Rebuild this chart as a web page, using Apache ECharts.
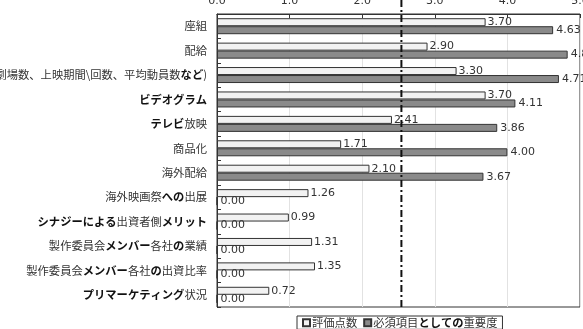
<!DOCTYPE html>
<html>
<head>
<meta charset="utf-8">
<script src="https://cdn.jsdelivr.net/npm/echarts@6/dist/echarts.min.js"></script>
<style>html,body{margin:0;padding:0;background:#fff;}#c{width:583px;height:329px;}</style>
</head>
<body>
<div id="c"></div>
<script>
var categories = ['座組','配給','(劇場数、上映期間\\回数、平均動員数など)','ビデオグラム','テレビ放映','商品化','海外配給','海外映画祭への出展','シナジーによる出資者側メリット','製作委員会メンバー各社の業績','製作委員会メンバー各社の出資比率','プリマーケティング状況'];
var seriesNames = ['評価点数','必須項目としての重要度'];
var scoreValues = [3.70, 2.90, 3.30, 3.70, 2.41, 1.71, 2.10, 1.26, 0.99, 1.31, 1.35, 0.72];
var importanceValues = [4.63, 4.83, 4.71, 4.11, 3.86, 4.00, 3.67, 0.00, 0.00, 0.00, 0.00, 0.00];
var xTicks = [0, 1, 2, 3, 4, 5];
var referenceLine = 2.54;

var FONT = '"Noto Sans CJK JP", "Noto Sans", sans-serif';
var NUMFONT = '"DejaVu Sans", sans-serif';
function richify(s) {
  var out = '', cur = '', bold = null;
  for (var i = 0; i < s.length; i++) {
    var ch = s[i];
    var code = ch.charCodeAt(0);
    var b = (code >= 0x3041 && code <= 0x30ff);
    if (bold === null) bold = b;
    if (b !== bold) {
      out += '{' + (bold ? 'b' : 'n') + '|' + cur + '}';
      cur = '';
      bold = b;
    }
    cur += ch;
  }
  if (cur) out += '{' + (bold ? 'b' : 'n') + '|' + cur + '}';
  return out;
}
var richStyles = {
  n: {fontFamily: FONT, fontSize: 11.3, color: '#333', fontWeight: 'normal'},
  b: {fontFamily: FONT, fontSize: 11.3, color: '#111', fontWeight: 'bold'}
};

var chart = echarts.init(document.getElementById('c'), null, {renderer: 'canvas'});
chart.setOption({
  animation: false,
  backgroundColor: '#fff',
  grid: [
    {left: 217, right: 3, top: 14, bottom: 22, show: true, borderColor: '#333', borderWidth: 1, backgroundColor: 'transparent', containLabel: false, outerBoundsMode: 'none'},
    {left: 217, right: 3, top: 0, bottom: 22, show: false, containLabel: false, outerBoundsMode: 'none'}
  ],
  xAxis: [{
    type: 'value', position: 'top', min: xTicks[0], max: xTicks[xTicks.length - 1], interval: 1,
    axisLine: {show: true, lineStyle: {color: '#333'}},
    axisTick: {show: true, inside: true, length: 4, lineStyle: {color: '#333'}},
    axisLabel: {show: true, showMinLabel: true, showMaxLabel: true, hideOverlap: false, margin: 7, fontFamily: NUMFONT, fontSize: 11, color: '#333', formatter: function(v){return v.toFixed(1);}},
    splitLine: {show: true, lineStyle: {color: '#e2e2e2'}}
  }, {
    gridIndex: 1, type: 'value', min: xTicks[0], max: xTicks[xTicks.length - 1], show: false
  }],
  yAxis: [{
    type: 'category', data: categories, inverse: true,
    axisLine: {show: true, lineStyle: {color: '#333'}},
    axisTick: {show: true, inside: true, length: 4, lineStyle: {color: '#333'}},
    axisLabel: {margin: 10, formatter: function(v){return richify(v);}, rich: richStyles},
    splitLine: {show: false}
  }, {
    gridIndex: 1, type: 'value', min: 0, max: 1, show: false
  }],
  legend: {
    data: seriesNames,
    left: 297, top: 316,
    orient: 'horizontal',
    borderColor: '#333', borderWidth: 1, padding: [1, 5, 1, 5],
    itemWidth: 7, itemHeight: 7, itemGap: 6,
    icon: 'rect',
    formatter: function(n){return richify(n);},
    textStyle: {rich: richStyles, padding: [0, 0, 0, -3]}
  },
  series: [{
    name: seriesNames[0], type: 'bar', data: scoreValues,
    barWidth: 8, barGap: '0%',
    itemStyle: {color: '#f2f2f2', borderColor: '#333', borderWidth: 1},
    label: {show: true, position: 'right', distance: 2, fontFamily: NUMFONT, fontSize: 11, color: '#333', formatter: function(p){return p.value.toFixed(2);}}
  }, {
    name: seriesNames[1], type: 'bar', data: importanceValues,
    barWidth: 8, barGap: '0%',
    itemStyle: {color: '#8a8a8a', borderColor: '#333', borderWidth: 1},
    label: {show: true, position: 'right', distance: 3, fontFamily: NUMFONT, fontSize: 11, color: '#333', formatter: function(p){return p.value.toFixed(2);}}
  }, {
    type: 'line', xAxisIndex: 1, yAxisIndex: 1, symbol: 'none', silent: true,
    data: [[referenceLine, 0], [referenceLine, 1]],
    lineStyle: {color: '#111', width: 2, type: [7, 3, 2, 3]}
  }]
});
</script>
</body>
</html>
